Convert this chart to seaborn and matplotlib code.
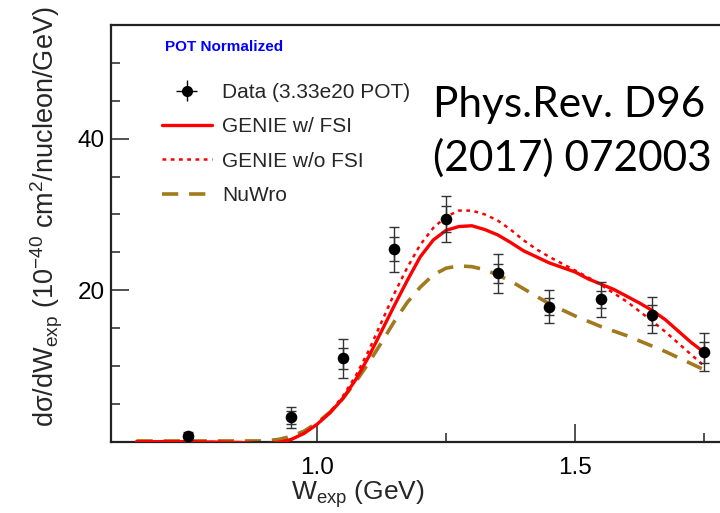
import numpy as np
import pandas as pd
import matplotlib
matplotlib.use("Agg")
import matplotlib.pyplot as plt
from matplotlib.ticker import MultipleLocator
from matplotlib.lines import Line2D
import seaborn as sns

# Measured cross section points
w_data = [0.75, 0.95, 1.05, 1.15, 1.25, 1.35, 1.45, 1.55, 1.65, 1.75]
xs_data = [0.75, 3.2, 11.0, 25.4, 29.4, 22.2, 17.8, 18.8, 16.7, 11.8]
err_stat = [0.3, 0.9, 1.4, 1.6, 1.7, 1.3, 1.1, 1.1, 1.3, 1.4]
err_total = [0.5, 1.4, 2.6, 3.0, 3.0, 2.6, 2.2, 2.3, 2.4, 2.5]

# Model predictions
w_model = [0.65, 0.75, 0.85, 0.90, 0.925, 0.95, 0.975, 1.00, 1.025, 1.05,
           1.075, 1.10, 1.125, 1.15, 1.175, 1.20, 1.225, 1.25, 1.275, 1.30,
           1.325, 1.35, 1.375, 1.40, 1.425, 1.45, 1.475, 1.50, 1.525, 1.55,
           1.575, 1.60, 1.625, 1.65, 1.675, 1.70, 1.725, 1.75]
genie_fsi = [0.0, 0.0, -0.1, -0.3, -0.1, 0.3, 1.1, 2.3, 3.8, 5.7,
             8.2, 11.2, 14.6, 18.0, 21.3, 24.4, 26.6, 27.9, 28.4, 28.5,
             28.0, 27.3, 26.3, 25.2, 24.4, 23.6, 23.0, 22.4, 21.5, 20.8,
             20.1, 19.2, 18.3, 17.3, 16.1, 14.6, 13.1, 11.8]
genie_nofsi = [0.0, 0.0, -0.1, -0.3, -0.1, 0.3, 1.1, 2.3, 3.9, 6.0,
               8.7, 12.0, 15.8, 19.6, 23.0, 26.0, 28.2, 29.7, 30.5, 30.5,
               30.0, 29.2, 28.0, 26.6, 25.4, 24.4, 23.5, 22.6, 21.7, 20.7,
               19.6, 18.5, 17.2, 15.9, 14.5, 13.0, 11.5, 10.0]
nuwro = [0.1, 0.1, 0.1, 0.1, 0.3, 0.7, 1.4, 2.5, 3.9, 5.7,
         7.9, 10.4, 13.1, 15.9, 18.4, 20.4, 22.0, 22.9, 23.2, 23.1,
         22.7, 22.0, 21.2, 20.2, 19.2, 18.2, 17.4, 16.6, 15.9, 15.2,
         14.6, 14.0, 13.3, 12.6, 11.9, 11.1, 10.3, 9.5]

x_ticks = [1.0, 1.5]
y_ticks = [20, 40]

sns.set_style("ticks")
plt.rcParams["font.family"] = ["Liberation Sans", "DejaVu Sans"]
plt.rcParams["mathtext.fontset"] = "custom"
plt.rcParams["mathtext.rm"] = "Liberation Sans"
plt.rcParams["mathtext.it"] = "Liberation Sans:italic"

fig = plt.figure(figsize=(7.2, 5.13), dpi=100)
ax = fig.add_axes([0.1537, 0.139, 0.86, 0.8123])

models = pd.DataFrame({"W": w_model, "fsi": genie_fsi,
                       "nofsi": genie_nofsi, "nuwro": nuwro})
red = "#ff0000"
brown = "#a07a1c"

sns.lineplot(data=models, x="W", y="nuwro", ax=ax, color=brown, lw=2.6,
             estimator=None, sort=False, zorder=2)
ax.lines[-1].set_dashes([4.5, 3.0])
sns.lineplot(data=models, x="W", y="nofsi", ax=ax, color=red, lw=1.8,
             estimator=None, sort=False, zorder=3)
ax.lines[-1].set_dashes([1.5, 1.8])
sns.lineplot(data=models, x="W", y="fsi", ax=ax, color=red, lw=2.4,
             estimator=None, sort=False, zorder=4)

ax.errorbar(w_data, xs_data, yerr=err_total, fmt="none", ecolor="#333333",
            elinewidth=1.0, capsize=3.4, capthick=1.0, zorder=5)
ax.errorbar(w_data, xs_data, yerr=err_stat, fmt="none", ecolor="#333333",
            elinewidth=1.0, capsize=3.4, capthick=1.0, zorder=5)
sns.scatterplot(x=w_data, y=xs_data, ax=ax, color="black", s=70,
                edgecolor="black", linewidth=0, zorder=6)

ax.set_xlim(0.6, 1.8)
ax.set_ylim(0, 55)
ax.set_xticks(x_ticks)
ax.set_xticklabels(["1.0", "1.5"])
ax.set_yticks(y_ticks)
ax.set_yticklabels(["20", "40"])
ax.xaxis.set_minor_locator(MultipleLocator(0.25))
ax.yaxis.set_minor_locator(MultipleLocator(5))
ax.tick_params(axis="both", which="both", direction="in", width=1.1,
               colors="#222222", labelcolor="black", labelsize=17.5)
ax.tick_params(axis="both", which="major", length=12.7)
ax.tick_params(axis="both", which="minor", length=6.3)
ax.tick_params(axis="x", which="major", pad=11)
ax.tick_params(axis="y", which="major", pad=4)
for s in ax.spines.values():
    s.set_linewidth(1.6)
    s.set_color("#222222")
ax.spines["right"].set_visible(False)

ax.set_xlabel(r"W$_{\mathrm{exp}}$ (GeV)", fontsize=19)
ax.xaxis.set_label_coords(0.40, -0.088)
ax.set_ylabel(r"dσ/dW$_{\mathrm{exp}}$ (10$^{-40}$ cm$^{2}$/nucleon/GeV)",
              fontsize=19.5)
ax.yaxis.set_label_coords(-0.074, 0.54)

# Legend
data_handle = ax.errorbar([np.nan], [np.nan], xerr=[1], yerr=[1], fmt="o",
                          color="black", ms=7, elinewidth=1.0, capsize=0)
handles = [data_handle,
           Line2D([], [], color=red, lw=2.4),
           Line2D([], [], color=red, lw=1.8, dashes=[1.5, 1.8]),
           Line2D([], [], color=brown, lw=2.6, dashes=[4.5, 3.0])]
labels = ["Data (3.33e20 POT)", "GENIE w/ FSI", "GENIE w/o FSI", "NuWro"]
ax.legend(handles, labels, loc="upper left", bbox_to_anchor=(0.052, 0.906),
          frameon=False, fontsize=15, handlelength=2.4, handletextpad=0.5,
          labelspacing=0.74)

fig.text(165 / 720, 1 - 47 / 513, "POT Normalized", color="#0000ff",
         fontsize=11, fontweight="bold", va="center", ha="left")
fig.text(433 / 720, 1 - 117 / 513, "Phys.Rev. D96", family="Lato",
         fontsize=30.5, va="baseline", ha="left", color="black")
fig.text(433 / 720, 1 - 171 / 513, "(2017) 072003", family="Lato",
         fontsize=30.5, va="baseline", ha="left", color="black")

fig.savefig("out.png", dpi=100)
